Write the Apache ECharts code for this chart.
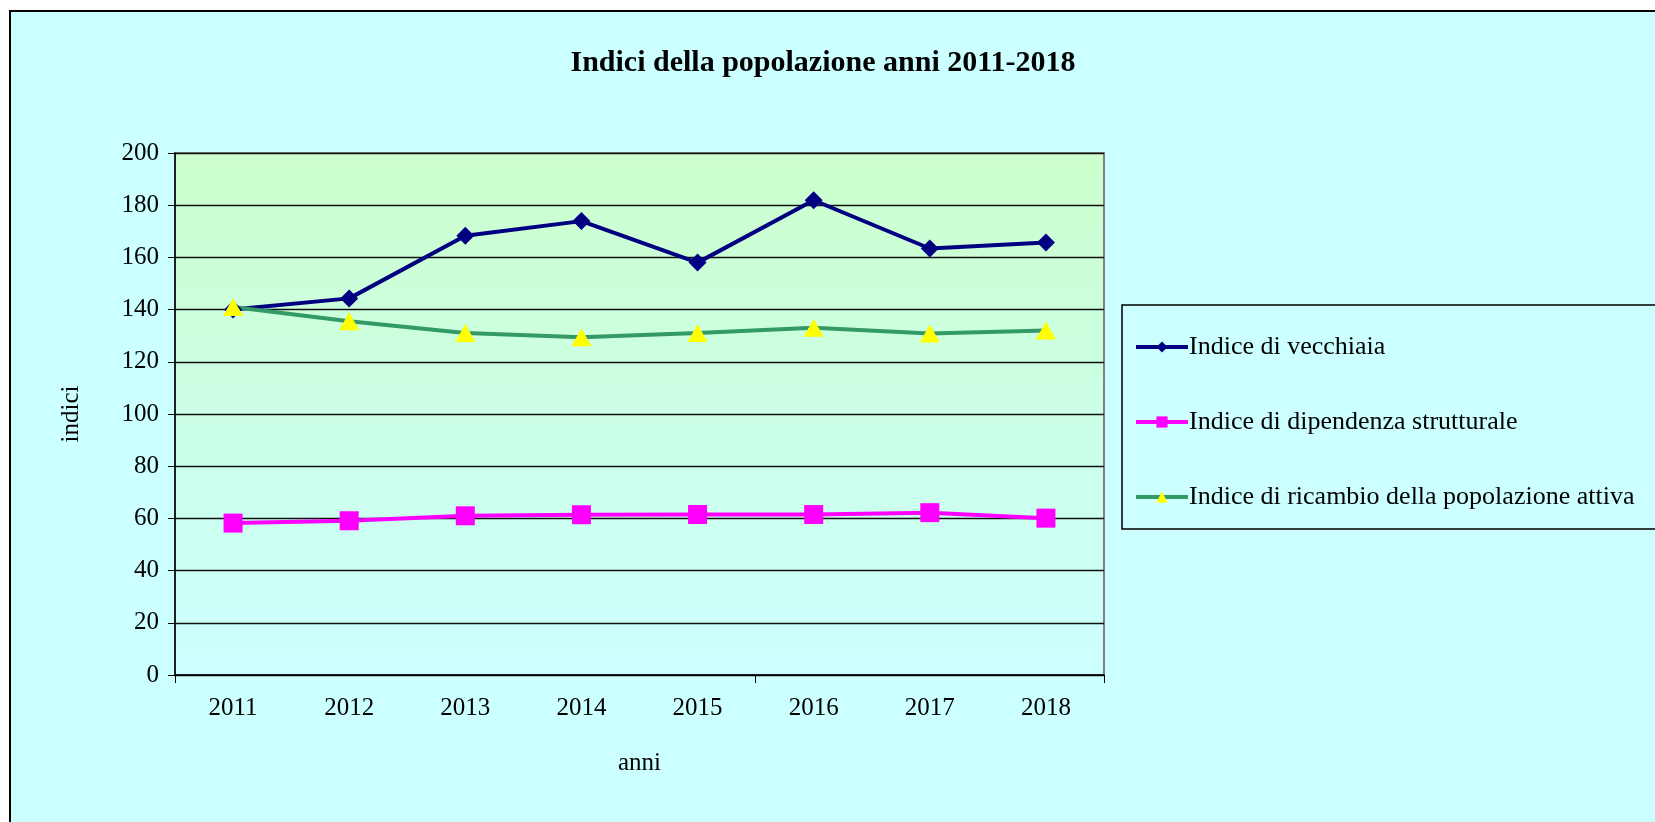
<!DOCTYPE html>
<html>
<head>
    <meta charset="utf-8">
    <title>Indici della popolazione</title>
    <script src="https://cdn.jsdelivr.net/npm/echarts@6/dist/echarts.min.js"></script>
    <style>
        html, body { margin: 0; padding: 0; background: #ffffff; }
    </style>
</head>
<body>
    <div id="main" style="width: 1655px;height:822px;"></div>
    <script type="text/javascript">
        // dati
        var anni = ['2011', '2012', '2013', '2014', '2015', '2016', '2017', '2018'];
        var vecchiaia = [140, 144.3, 168.3, 173.9, 158, 181.9, 163.4, 165.7];
        var dipendenza = [58.2, 59.1, 61, 61.4, 61.5, 61.5, 62.2, 60.1];
        var ricambio = [141, 135.5, 131, 129.4, 131, 133, 130.8, 132];
        var yTicks = [0, 20, 40, 60, 80, 100, 120, 140, 160, 180, 200];

        var font = 'Liberation Serif';
        var myChart = echarts.init(document.getElementById('main'));

        var option = {
            backgroundColor: '#ffffff',
            animation: false,
            title: {
                text: 'Indici della popolazione anni 2011-2018',
                left: 818,
                textAlign: 'center',
                top: 43,
                textStyle: { fontFamily: font, fontSize: 30, fontWeight: 'bold', color: '#000' }
            },
            graphic: [
                {
                    type: 'rect', z: -10, silent: true,
                    shape: { x: 10, y: 11, width: 1700, height: 900 },
                    style: { fill: '#ccffff', stroke: '#000', lineWidth: 2 }
                },
                {
                    type: 'rect', z: 1, silent: true,
                    shape: { x: 1122, y: 305, width: 600, height: 224 },
                    style: { fill: 'none', stroke: '#000', lineWidth: 1.5 }
                }
            ],
            legend: {
                orient: 'vertical',
                left: 1129,
                top: 329,
                itemGap: 49,
                itemWidth: 52,
                itemHeight: 14,
                lineStyle: { width: 4 },
                textStyle: { fontFamily: font, fontSize: 26, color: '#000', padding: [0, 0, 0, -4] },
                data: ['Indice di vecchiaia', 'Indice di dipendenza strutturale', 'Indice di ricambio della popolazione attiva']
            },
            grid: {
                left: 175,
                right: 551,
                top: 153,
                bottom: 147,
                show: true,
                borderColor: '#808080',
                borderWidth: 2,
                backgroundColor: {
                    type: 'linear', x: 0, y: 0, x2: 0, y2: 1,
                    colorStops: [{ offset: 0, color: '#ccffcc' }, { offset: 1, color: '#ccffff' }]
                }
            },
            xAxis: {
                type: 'category',
                data: anni,
                boundaryGap: true,
                name: 'anni',
                nameLocation: 'middle',
                nameGap: 76,
                nameTextStyle: { fontFamily: font, fontSize: 25, color: '#000' },
                axisLine: { lineStyle: { color: '#000', width: 1.5 } },
                axisTick: {
                    show: true, length: 8, lineStyle: { color: '#000' },
                    interval: function (index) { return index === 0 || index === 5; }
                },
                axisLabel: { fontFamily: font, fontSize: 25, color: '#000', margin: 21, interval: 0 }
            },
            yAxis: {
                type: 'value',
                min: 0,
                max: 200,
                interval: 20,
                name: 'indici',
                nameLocation: 'middle',
                nameRotate: 90,
                nameGap: 91,
                nameTextStyle: { fontFamily: font, fontSize: 25, color: '#000' },
                axisLine: { show: true, lineStyle: { color: '#000', width: 1.5 } },
                axisTick: { show: true, length: 7, lineStyle: { color: '#000' } },
                axisLabel: {
                    fontFamily: font, fontSize: 25, color: '#000', margin: 16,
                    formatter: function (v) { return yTicks.indexOf(v) >= 0 ? String(v) : ''; }
                },
                splitLine: { show: true, lineStyle: { color: '#111', width: 1.3 } }
            },
            series: [
                {
                    name: 'Indice di vecchiaia',
                    type: 'line',
                    data: vecchiaia,
                    symbol: 'diamond',
                    symbolSize: 18,
                    lineStyle: { color: '#000080', width: 4 },
                    itemStyle: { color: '#000080' }
                },
                {
                    name: 'Indice di dipendenza strutturale',
                    type: 'line',
                    data: dipendenza,
                    symbol: 'rect',
                    symbolSize: 19,
                    lineStyle: { color: '#ff00ff', width: 4 },
                    itemStyle: { color: '#ff00ff' }
                },
                {
                    name: 'Indice di ricambio della popolazione attiva',
                    type: 'line',
                    data: ricambio,
                    symbol: 'triangle',
                    symbolSize: [20, 18],
                    lineStyle: { color: '#339966', width: 4 },
                    itemStyle: { color: '#ffff00' }
                }
            ]
        };

        myChart.setOption(option);
    </script>
</body>
</html>
